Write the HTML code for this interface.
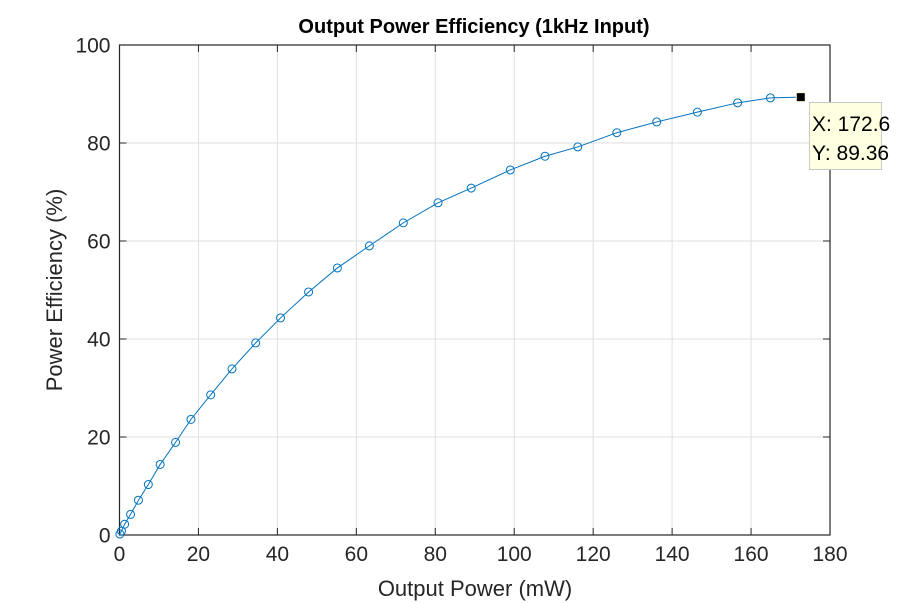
<!DOCTYPE html>
<html><head><meta charset="utf-8"><style>
html,body{margin:0;padding:0;background:#fff;}
svg{display:block;font-family:"Liberation Sans",Arial,sans-serif;}
</style></head><body>
<svg id="chart" width="918" height="603">
<rect width="918" height="603" fill="#fff"/>
<g id="grid"></g>
<g id="axes"></g>
<g id="series"></g>
<text x="474" y="33" font-size="20" font-weight="bold" text-anchor="middle" fill="#000">Output Power Efficiency (1kHz Input)</text>
<text x="475" y="596" font-size="22" text-anchor="middle" fill="#262626">Output Power (mW)</text>
<text transform="translate(62,290) rotate(-90)" font-size="22" text-anchor="middle" fill="#262626">Power Efficiency (%)</text>
<g id="tip"></g>
</svg>
<script>
const xTicks=[0,20,40,60,80,100,120,140,160,180];
const yTicks=[0,20,40,60,80,100];
const powerMW=[0.1,0.5,1.3,2.8,4.8,7.3,10.3,14.2,18.1,23.1,28.5,34.5,40.8,47.9,55.2,63.3,71.9,80.7,89.1,99,107.8,116.1,126,136.1,146.4,156.6,164.9,172.6];
const efficiency=[0.2,0.8,2.2,4.2,7.1,10.3,14.4,18.9,23.6,28.6,33.9,39.2,44.3,49.6,54.5,59,63.7,67.8,70.8,74.5,77.3,79.2,82.1,84.3,86.3,88.2,89.2,89.36];
const X0=119.5,X1=830,Y0=535,Y1=45;
const sx=v=>X0+(v-0)/(180-0)*(X1-X0);
const sy=v=>Y0-(v-0)/(100-0)*(Y0-Y1);
const NS="http://www.w3.org/2000/svg";
function mk(t,a,p){const e=document.createElementNS(NS,t);for(const k in a)e.setAttribute(k,a[k]);p.appendChild(e);return e;}
const grid=document.getElementById('grid'),axes=document.getElementById('axes'),ser=document.getElementById('series'),tip=document.getElementById('tip');
mk('rect',{x:X0,y:Y1,width:X1-X0,height:Y0-Y1,fill:'#fff'},grid);
xTicks.forEach(t=>{
  const g=mk('line',{x1:sx(t),x2:sx(t),y1:Y1,y2:Y0,stroke:'#dfdfdf','stroke-width':1},grid);
  
  
  mk('line',{x1:sx(t),x2:sx(t),y1:Y0,y2:Y0-7,stroke:'#262626'},axes);
  mk('line',{x1:sx(t),x2:sx(t),y1:Y1,y2:Y1+7,stroke:'#262626'},axes);
  const l=mk('text',{x:sx(t),y:Y0+26,'font-size':21,'text-anchor':'middle',fill:'#262626'},axes);
  l.textContent=t;
  
  
});
yTicks.forEach(t=>{
  const g=mk('line',{x1:X0,x2:X1,y1:sy(t),y2:sy(t),stroke:'#dfdfdf','stroke-width':1},grid);
  
  
  mk('line',{x1:X0,x2:X0+7,y1:sy(t),y2:sy(t),stroke:'#262626'},axes);
  mk('line',{x1:X1,x2:X1-7,y1:sy(t),y2:sy(t),stroke:'#262626'},axes);
  const l=mk('text',{x:X0-9,y:sy(t)+7.5,'font-size':21,'text-anchor':'end',fill:'#262626'},axes);
  l.textContent=t;
  
  
});
mk('rect',{x:X0,y:Y1,width:X1-X0,height:Y0-Y1,fill:'none',stroke:'#262626','stroke-width':1.2},axes);
const pts=powerMW.map((v,i)=>sx(v)+','+sy(efficiency[i])).join(' ');
const line=mk('polyline',{points:pts,fill:'none',stroke:'#0072bd','stroke-width':1},ser);


powerMW.forEach((v,i)=>{
  if(i===powerMW.length-1)return;
  const c=mk('circle',{cx:sx(v),cy:sy(efficiency[i]),r:4,fill:'none',stroke:'#0072bd','stroke-width':1},ser);
  
  
});
const li=powerMW.length-1;
const px=sx(powerMW[li]),py=sy(efficiency[li]);
const sq=mk('rect',{x:px-4.5,y:py-4.5,width:9,height:9,fill:'#000',stroke:'#ffffe0','stroke-width':1},tip);


const box=mk('rect',{x:809.5,y:102.5,width:72,height:67,fill:'#ffffe1',stroke:'#c8c8c8'},tip);


const t1=mk('text',{x:812,y:131,'font-size':21,fill:'#000'},tip);
t1.textContent='X: '+powerMW[li];


const t2=mk('text',{x:812,y:160,'font-size':21,fill:'#000'},tip);
t2.textContent='Y: '+efficiency[li];


</script>
</body></html>
